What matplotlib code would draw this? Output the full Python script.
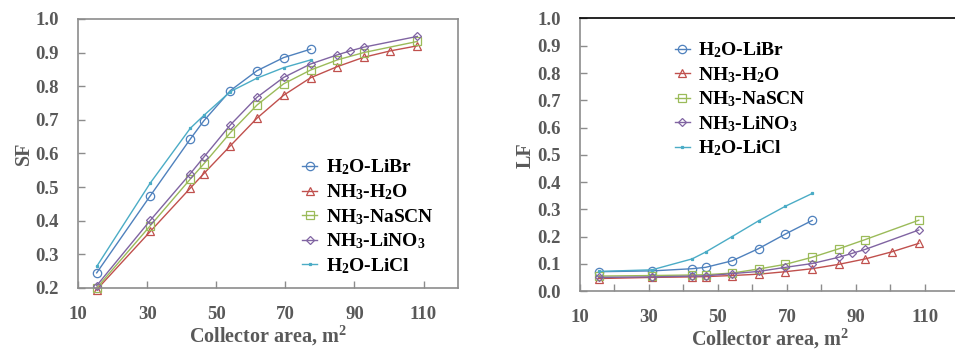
import matplotlib
matplotlib.use("Agg")
import matplotlib.pyplot as plt
from matplotlib.ticker import MultipleLocator

plt.rcParams["font.family"] = "Liberation Serif"
plt.rcParams["font.weight"] = "bold"
plt.rcParams["mathtext.fontset"] = "custom"
plt.rcParams["mathtext.rm"] = "Liberation Serif:bold"
plt.rcParams["mathtext.default"] = "rm"

# collector areas (m2)
x8 = [15.4, 30.9, 42.5, 46.4, 54.1, 61.8, 69.5, 77.3]
x_nh3h2o = [15.4, 30.9, 42.5, 46.4, 54.1, 61.8, 69.5, 77.3, 85.0, 92.7, 100.4, 108.2]
x_nascn = [15.4, 30.9, 42.5, 46.4, 54.1, 61.8, 69.5, 77.3, 85.0, 92.7, 108.2]
x_lino3 = [15.4, 30.9, 42.5, 46.4, 54.1, 61.8, 69.5, 77.3, 85.0, 88.8, 92.7, 108.2]

# solar fraction
sf_libr = [0.245, 0.474, 0.643, 0.697, 0.787, 0.846, 0.885, 0.910]
sf_nh3h2o = [0.195, 0.368, 0.497, 0.540, 0.623, 0.705, 0.773, 0.825, 0.858, 0.886, 0.905, 0.920]
sf_nascn = [0.200, 0.385, 0.524, 0.569, 0.662, 0.744, 0.807, 0.848, 0.878, 0.900, 0.933]
sf_lino3 = [0.207, 0.401, 0.540, 0.589, 0.685, 0.767, 0.826, 0.866, 0.893, 0.905, 0.916, 0.948]
sf_licl = [0.264, 0.512, 0.675, 0.713, 0.784, 0.824, 0.855, 0.878]

# LF
lf_libr = [0.071, 0.074, 0.082, 0.087, 0.111, 0.156, 0.209, 0.259]
lf_nh3h2o = [0.046, 0.050, 0.052, 0.053, 0.057, 0.062, 0.071, 0.082, 0.098, 0.118, 0.144, 0.175]
lf_nascn = [0.055, 0.057, 0.059, 0.060, 0.066, 0.081, 0.098, 0.124, 0.155, 0.189, 0.260]
lf_lino3 = [0.050, 0.052, 0.055, 0.056, 0.064, 0.072, 0.087, 0.101, 0.124, 0.138, 0.153, 0.224]
lf_licl = [0.072, 0.078, 0.118, 0.143, 0.200, 0.258, 0.311, 0.358]

labels = [r"H$_2$O-LiBr", r"NH$_3$-H$_2$O", r"NH$_3$-NaSCN", r"NH$_3$-LiNO$_3$", r"H$_2$O-LiCl"]
colors = ["#4F81BD", "#C0504D", "#9BBB59", "#8064A2", "#4BACC6"]
markers = ["o", "^", "s", "D", "s"]
msizes = [6, 6, 6, 4.5, 2]

gray = "#8C8C8C"
tcol = "#595959"

fig = plt.figure(figsize=(9.55, 3.49), dpi=100)
ax1 = fig.add_axes([0.0817, 0.1748, 0.398, 0.771])
ax2 = fig.add_axes([0.6073, 0.166, 0.3974, 0.781])


def draw(ax, series, ylabel, ylim):
    for (xs, ys), lab, c, m, ms in zip(series, labels, colors, markers, msizes):
        filled = lab == labels[4]
        ax.plot(xs, ys, color=c, lw=1.0, marker=m, ms=ms,
                mfc=c if filled else "none", mec=c, mew=0.9, label=lab,
                clip_on=False)
    ax.set_xlim(10, 120)
    ax.set_ylim(*ylim)
    ax.xaxis.set_major_locator(MultipleLocator(20, offset=10))
    ax.yaxis.set_major_locator(MultipleLocator(0.1))
    ax.set_xlabel(r"Collector area, m$^2$", color=tcol, fontsize=14.5,
                  fontweight="bold", labelpad=0.5)
    ax.set_ylabel(ylabel, color=tcol, fontsize=14.5, fontweight="bold", labelpad=1)
    ax.tick_params(direction="in", length=5, colors=gray, labelcolor=tcol,
                   labelsize=13.5, width=1)
    ax.tick_params(axis="x", pad=13)
    ax.tick_params(axis="y", pad=14)
    for s in ax.spines.values():
        s.set_color(gray)
        s.set_linewidth(1.2)
    ax.legend(loc="upper left", frameon=False, fontsize=14, handlelength=0.75,
              handletextpad=0.45, labelspacing=0.25, borderpad=0)


draw(ax1, [(x8, sf_libr), (x_nh3h2o, sf_nh3h2o), (x_nascn, sf_nascn),
           (x_lino3, sf_lino3), (x8, sf_licl)], "SF", (0.2, 1.0))
ax1.get_legend().set_bbox_to_anchor((0.565, 0.52), transform=ax1.transAxes)

draw(ax2, [(x8, lf_libr), (x_nh3h2o, lf_nh3h2o), (x_nascn, lf_nascn),
           (x_lino3, lf_lino3), (x8, lf_licl)], "LF", (0.0, 1.0))
ax2.xaxis.set_minor_locator(MultipleLocator(10))
ax2.tick_params(which="minor", direction="in", length=5, colors=gray, width=1)
ax2.spines["top"].set_color("black")
ax2.spines["right"].set_visible(False)
ax2.get_legend().set_bbox_to_anchor((0.225, 0.955), transform=ax2.transAxes)

for ax in (ax1, ax2):
    plt.setp(ax.get_xticklabels() + ax.get_yticklabels(), fontweight="bold")

fig.savefig("out.png", dpi=100)
